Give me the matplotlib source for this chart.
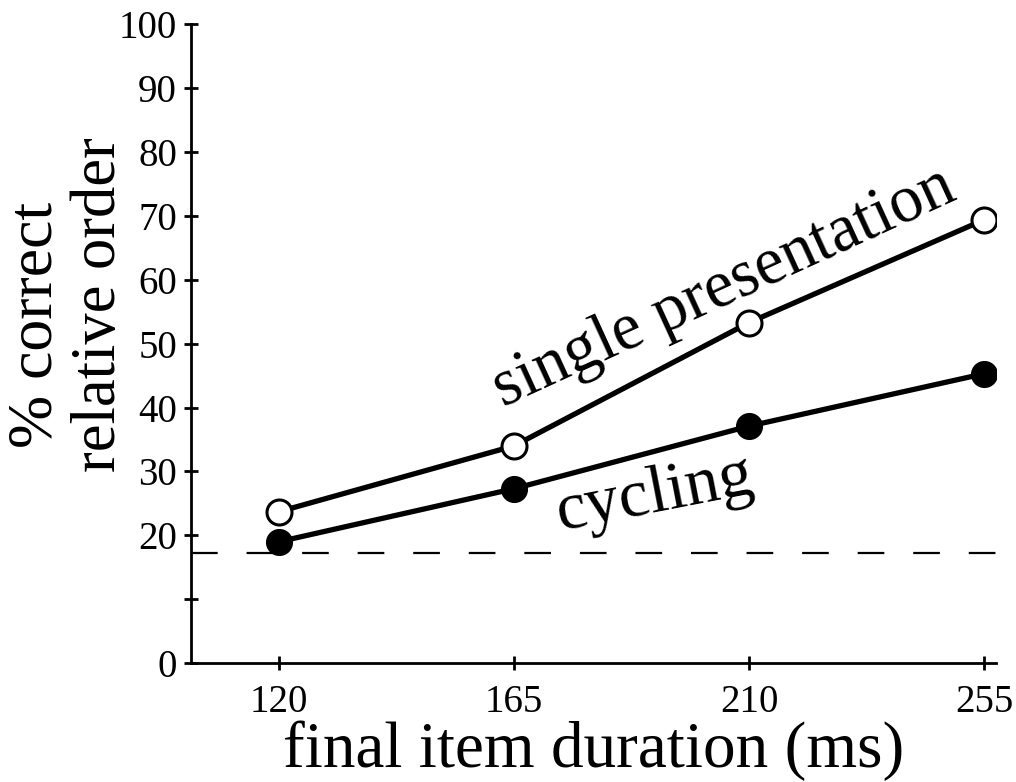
import numpy as np
import matplotlib
matplotlib.use("Agg")
import matplotlib.pyplot as plt

# final item duration (ms)
durations = [120, 165, 210, 255]
# % correct relative order
single_presentation = [23.7, 34.0, 53.3, 69.4]
cycling = [19.0, 27.3, 37.1, 45.3]
chance_level = 17.3

x_ticks = [120, 165, 210, 255]
y_ticks = [0, 10, 20, 30, 40, 50, 60, 70, 80, 90, 100]
y_tick_labels = ["0", "", "20", "30", "40", "50", "60", "70", "80", "90", "100"]

plt.rcParams['font.family'] = ['Liberation Serif', 'DejaVu Serif']

W, H = 1016, 782
fig = plt.figure(figsize=(W / 100, H / 100), dpi=100)
ax = fig.add_axes([0.188, 0.152, 0.792, 0.817])

# chance line
ax.axhline(chance_level, color='black', lw=1.6, dashes=[12, 13], zorder=1)

ax.plot(durations, single_presentation, color='black', lw=3.8, marker='o',
        ms=18, mfc='white', mec='black', mew=2.2, zorder=3)
ax.plot(durations, cycling, color='black', lw=3.8, marker='o',
        ms=18.5, mfc='black', mec='black', zorder=3)

ax.text(206.5, 56.3, "single presentation", fontsize=48, rotation=24.6,
        rotation_mode='anchor', ha='center', va='baseline')
ax.text(192.5, 23.8, "cycling", fontsize=49, rotation=11,
        rotation_mode='anchor', ha='center', va='baseline')

ax.set_xlim(103.2, 257.2)
ax.set_ylim(0, 100)
ax.set_xticks(x_ticks)
ax.set_xticklabels([str(v) for v in x_ticks], fontsize=28)
ax.set_yticks(y_ticks)
ax.set_yticklabels(y_tick_labels, fontsize=28)

for side in ['top', 'right']:
    ax.spines[side].set_visible(False)
for side in ['left', 'bottom']:
    ax.spines[side].set_linewidth(2.0)
ax.tick_params(direction='inout', length=10, width=2.0)
ax.tick_params(axis='y', pad=5)
ax.tick_params(axis='x', pad=10)

# axis titles placed by hand to sit where the original has them
fig.text(594 / W, 1 - 767 / H, "final item duration (ms)", fontsize=47,
         ha='center', va='baseline')
fig.text(52 / W, 1 - 325 / H, "% correct", fontsize=46, rotation=90,
         rotation_mode='anchor', ha='center', va='baseline')
fig.text(115 / W, 1 - 305 / H, "relative order", fontsize=45, rotation=90,
         rotation_mode='anchor', ha='center', va='baseline')

fig.savefig("out.png", dpi=100)
